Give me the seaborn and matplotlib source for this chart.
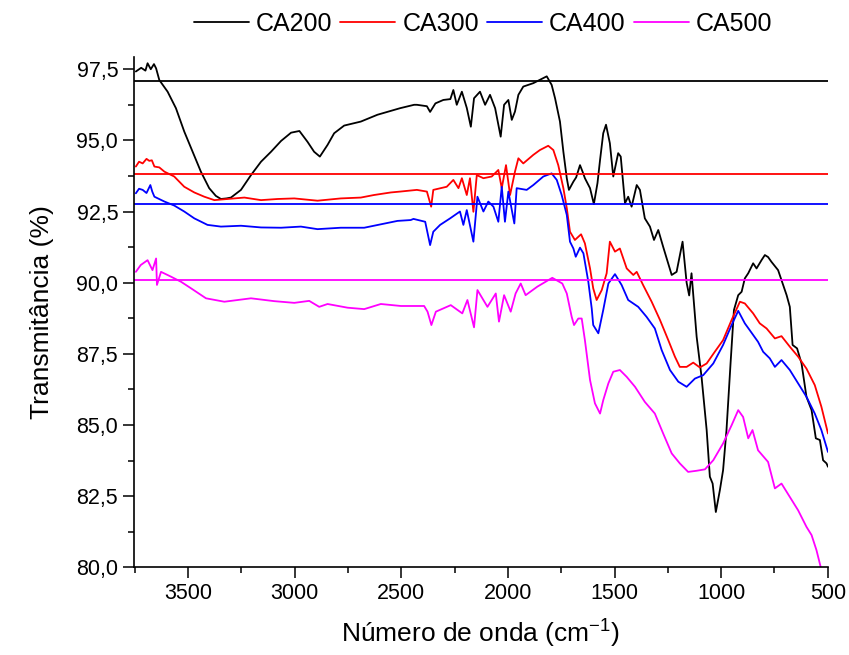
import numpy as np
import pandas as pd
import matplotlib
matplotlib.use("Agg")
import matplotlib.pyplot as plt
from matplotlib.ticker import MultipleLocator, FuncFormatter
import seaborn as sns

# valores (numero de onda em cm-1, transmitancia em %)
ca200_x = [3745, 3720, 3700, 3690, 3675, 3660, 3650, 3635, 3596, 3557, 3518, 3479, 3440, 3401,
           3370, 3346, 3320, 3299, 3252, 3205, 3158, 3111, 3064, 3017, 2978, 2940, 2909, 2882,
           2846, 2815, 2768, 2690, 2612, 2534, 2506, 2440, 2427, 2380, 2365, 2340, 2303, 2270,
           2256, 2240, 2216, 2193, 2174, 2159, 2131, 2107, 2084, 2060, 2034, 2018, 1998, 1982,
           1967, 1951, 1928, 1881, 1842, 1818, 1795, 1779, 1756, 1740, 1724, 1714, 1693, 1680,
           1662, 1650, 1639, 1615, 1597, 1580, 1568, 1553, 1540, 1522, 1506, 1483, 1471, 1451,
           1436, 1420, 1396, 1381, 1358, 1334, 1315, 1295, 1272, 1232, 1209, 1181, 1162, 1150,
           1139, 1115, 1092, 1068, 1053, 1040, 1025, 1006, 991, 975, 956, 940, 920, 904, 889,
           873, 850, 834, 810, 795, 780, 764, 733, 717, 693, 678, 665, 644, 623, 600, 576, 556,
           537, 522, 506, 499]
ca200_y = [97.42, 97.55, 97.45, 97.71, 97.50, 97.68, 97.53, 97.12, 96.71, 96.13, 95.31, 94.60,
           93.90, 93.32, 93.05, 92.94, 92.96, 92.99, 93.26, 93.78, 94.25, 94.60, 94.98, 95.27,
           95.33, 94.95, 94.60, 94.43, 94.84, 95.25, 95.52, 95.66, 95.90, 96.07, 96.13, 96.25,
           96.25, 96.20, 96.00, 96.30, 96.42, 96.45, 96.77, 96.25, 96.71, 96.14, 95.48, 96.48,
           96.71, 96.25, 96.60, 96.13, 95.13, 96.25, 96.42, 95.72, 96.01, 96.60, 96.89, 97.01,
           97.16, 97.25, 96.95, 96.48, 95.66, 94.60, 93.67, 93.26, 93.55, 93.70, 94.13, 93.90,
           93.67, 93.32, 92.76, 93.50, 94.31, 95.25, 95.55, 94.90, 93.73, 94.55, 94.43, 92.79,
           93.02, 92.67, 93.43, 93.26, 92.26, 91.97, 91.50, 91.85, 91.26, 90.27, 90.38, 91.44,
           90.00, 89.55, 90.33, 88.10, 86.69, 84.82, 83.18, 82.94, 81.94, 82.71, 83.41, 84.82,
           87.16, 89.04, 89.56, 89.68, 90.15, 90.33, 90.68, 90.50, 90.80, 90.97, 90.90, 90.73,
           90.44, 90.09, 89.56, 89.15, 87.81, 87.69, 87.16, 85.99, 85.52, 84.53, 84.47, 83.76,
           83.65, 83.53]

ca300_x = [3745, 3730, 3713, 3695, 3682, 3670, 3658, 3635, 3611, 3565, 3518, 3471, 3424, 3377,
           3315, 3236, 3158, 3080, 3002, 2893, 2784, 2690, 2628, 2549, 2506, 2427, 2380, 2360,
           2350, 2287, 2256, 2232, 2216, 2193, 2178, 2162, 2146, 2115, 2076, 2045, 2029, 2009,
           1990, 1967, 1951, 1928, 1881, 1850, 1811, 1787, 1764, 1740, 1724, 1709, 1686, 1657,
           1639, 1615, 1600, 1584, 1560, 1537, 1522, 1498, 1475, 1443, 1412, 1396, 1365, 1326,
           1287, 1248, 1217, 1194, 1162, 1131, 1100, 1068, 1030, 991, 951, 912, 889, 850, 819,
           787, 748, 717, 678, 639, 600, 561, 530, 499]
ca300_y = [94.08, 94.25, 94.19, 94.35, 94.28, 94.30, 94.08, 94.05, 93.90, 93.73, 93.37, 93.17,
           93.02, 92.90, 92.94, 92.99, 92.90, 92.94, 92.96, 92.88, 92.96, 92.99, 93.08, 93.17,
           93.20, 93.26, 93.20, 92.67, 93.26, 93.37, 93.61, 93.32, 93.67, 93.08, 93.67, 92.49,
           93.78, 93.67, 93.73, 93.96, 93.32, 94.13, 93.08, 93.90, 94.37, 94.19, 94.49, 94.66,
           94.81, 94.66, 94.13, 93.32, 92.62, 91.79, 91.50, 91.70, 91.38, 90.50, 89.80, 89.39,
           89.74, 90.33, 91.44, 91.09, 91.20, 90.50, 90.27, 90.38, 89.90, 89.33, 88.69, 87.98,
           87.40, 87.04, 87.04, 87.19, 87.02, 87.16, 87.57, 87.98, 88.69, 89.33, 89.27, 88.92,
           88.57, 88.39, 88.04, 88.12, 87.75, 87.40, 86.98, 86.40, 85.64, 84.70]

ca400_x = [3745, 3730, 3713, 3695, 3677, 3668, 3658, 3611, 3565, 3518, 3471, 3409, 3346, 3252,
           3158, 3064, 2971, 2893, 2784, 2674, 2596, 2518, 2456, 2443, 2388, 2365, 2350, 2318,
           2271, 2225, 2209, 2193, 2162, 2143, 2115, 2092, 2068, 2045, 2029, 2014, 1998, 1970,
           1959, 1912, 1881, 1834, 1795, 1771, 1748, 1724, 1709, 1693, 1682, 1662, 1646, 1623,
           1607, 1600, 1576, 1553, 1529, 1498, 1467, 1436, 1389, 1350, 1311, 1279, 1240, 1201,
           1162, 1123, 1084, 1037, 991, 951, 920, 889, 866, 827, 803, 772, 748, 717, 678, 639,
           600, 561, 530, 499]
ca400_y = [93.14, 93.30, 93.26, 93.15, 93.43, 93.20, 93.02, 92.85, 92.71, 92.50, 92.26, 92.03,
           91.97, 92.00, 91.94, 91.93, 91.97, 91.88, 91.93, 91.93, 92.05, 92.17, 92.20, 92.24,
           92.14, 91.32, 91.79, 92.03, 92.26, 92.50, 92.03, 92.55, 91.44, 93.02, 92.50, 92.85,
           92.67, 92.14, 93.37, 92.14, 93.20, 92.08, 93.32, 93.26, 93.43, 93.73, 93.84, 93.61,
           93.08, 92.38, 91.44, 91.20, 90.91, 91.23, 91.03, 90.03, 89.09, 88.51, 88.22, 89.04,
           89.97, 90.30, 89.92, 89.39, 89.15, 88.80, 88.39, 87.63, 86.93, 86.52, 86.34, 86.63,
           86.75, 87.16, 87.81, 88.51, 89.01, 88.57, 88.33, 87.92, 87.57, 87.34, 87.04, 87.28,
           86.93, 86.46, 85.99, 85.40, 84.82, 84.05]

ca500_x = [3745, 3722, 3690, 3667, 3650, 3646, 3627, 3580, 3533, 3486, 3416, 3330, 3205, 3096,
           3002, 2932, 2885, 2846, 2752, 2674, 2596, 2502, 2393, 2377, 2359, 2338, 2268, 2214,
           2190, 2159, 2143, 2096, 2057, 2042, 2018, 1987, 1964, 1940, 1917, 1862, 1792, 1745,
           1724, 1701, 1690, 1670, 1654, 1639, 1615, 1592, 1568, 1553, 1529, 1506, 1475, 1443,
           1404, 1358, 1311, 1272, 1232, 1194, 1155, 1115, 1076, 1037, 991, 951, 920, 897, 873,
           853, 827, 780, 748, 717, 678, 639, 600, 576, 553, 534]
ca500_y = [90.38, 90.62, 90.79, 90.44, 90.85, 89.92, 90.38, 90.21, 90.03, 89.80, 89.45, 89.33,
           89.45, 89.35, 89.29, 89.36, 89.15, 89.25, 89.12, 89.07, 89.25, 89.18, 89.18, 88.98,
           88.51, 88.98, 89.21, 88.92, 89.39, 88.43, 89.74, 89.15, 89.62, 88.63, 89.56, 88.98,
           89.62, 89.97, 89.56, 89.86, 90.17, 89.97, 89.62, 88.80, 88.51, 88.74, 88.74, 87.98,
           86.58, 85.76, 85.40, 85.87, 86.46, 86.87, 86.93, 86.69, 86.34, 85.81, 85.40, 84.70,
           84.00, 83.65, 83.35, 83.39, 83.44, 83.76, 84.35, 84.99, 85.52, 85.28, 84.53, 84.82,
           84.11, 83.70, 82.77, 82.94, 82.47, 82.00, 81.42, 81.13, 80.60, 80.03]

amostras = ["CA200", "CA300", "CA400", "CA500"]
cores = ["#000000", "#ff0000", "#0000ff", "#ff00ff"]
linhas_base = [97.10, 93.82, 92.78, 90.08]

# juntar tudo num dataframe longo
series = [(ca200_x, ca200_y), (ca300_x, ca300_y), (ca400_x, ca400_y), (ca500_x, ca500_y)]
frames = []
for nome, (xs, ys) in zip(amostras, series):
    frames.append(pd.DataFrame({"onda": xs, "trans": ys, "amostra": nome}))
df = pd.concat(frames, ignore_index=True)

sns.set_theme(style="ticks")
plt.rcParams["font.family"] = ["Liberation Sans", "DejaVu Sans"]
plt.rcParams["mathtext.default"] = "regular"
plt.rcParams["text.color"] = "black"
plt.rcParams["axes.labelcolor"] = "black"

fig = plt.figure(figsize=(8.49, 6.55), dpi=100)
ax = fig.add_axes([0.158, 0.134, 0.817, 0.779])

sns.lineplot(data=df, x="onda", y="trans", hue="amostra", palette=cores,
             estimator=None, sort=False, linewidth=1.3, ax=ax)

# linhas horizontais de referencia
for yb, c in zip(linhas_base, cores):
    ax.axhline(yb, color=c, lw=1.3)

ax.set_xlim(3753, 500)
ax.set_ylim(80, 97.93)
ax.xaxis.set_major_locator(MultipleLocator(500))
ax.xaxis.set_minor_locator(MultipleLocator(250))
ax.yaxis.set_major_locator(MultipleLocator(2.5))
ax.yaxis.set_minor_locator(MultipleLocator(1.25))
ax.yaxis.set_major_formatter(FuncFormatter(lambda v, p: f"{v:.1f}".replace(".", ",")))

ax.tick_params(which="major", direction="out", length=8, width=1.1, labelsize=15.5, colors="black")
ax.tick_params(which="minor", direction="out", length=4, width=1.1, colors="black")
for s in ["left", "bottom"]:
    ax.spines[s].set_linewidth(1.2)
    ax.spines[s].set_color("black")
sns.despine(ax=ax)

ax.set_xlabel("Número de onda (cm$^{-1}$)", fontsize=19, labelpad=10)
ax.set_ylabel("Transmitância (%)", fontsize=19, labelpad=16)

sns.move_legend(ax, "center", bbox_to_anchor=(0.503, 1.065), ncol=4, frameon=False,
                title=None, fontsize=18, handlelength=2.2, columnspacing=0.32,
                handletextpad=0.28)

plt.savefig("out.png", dpi=100)
